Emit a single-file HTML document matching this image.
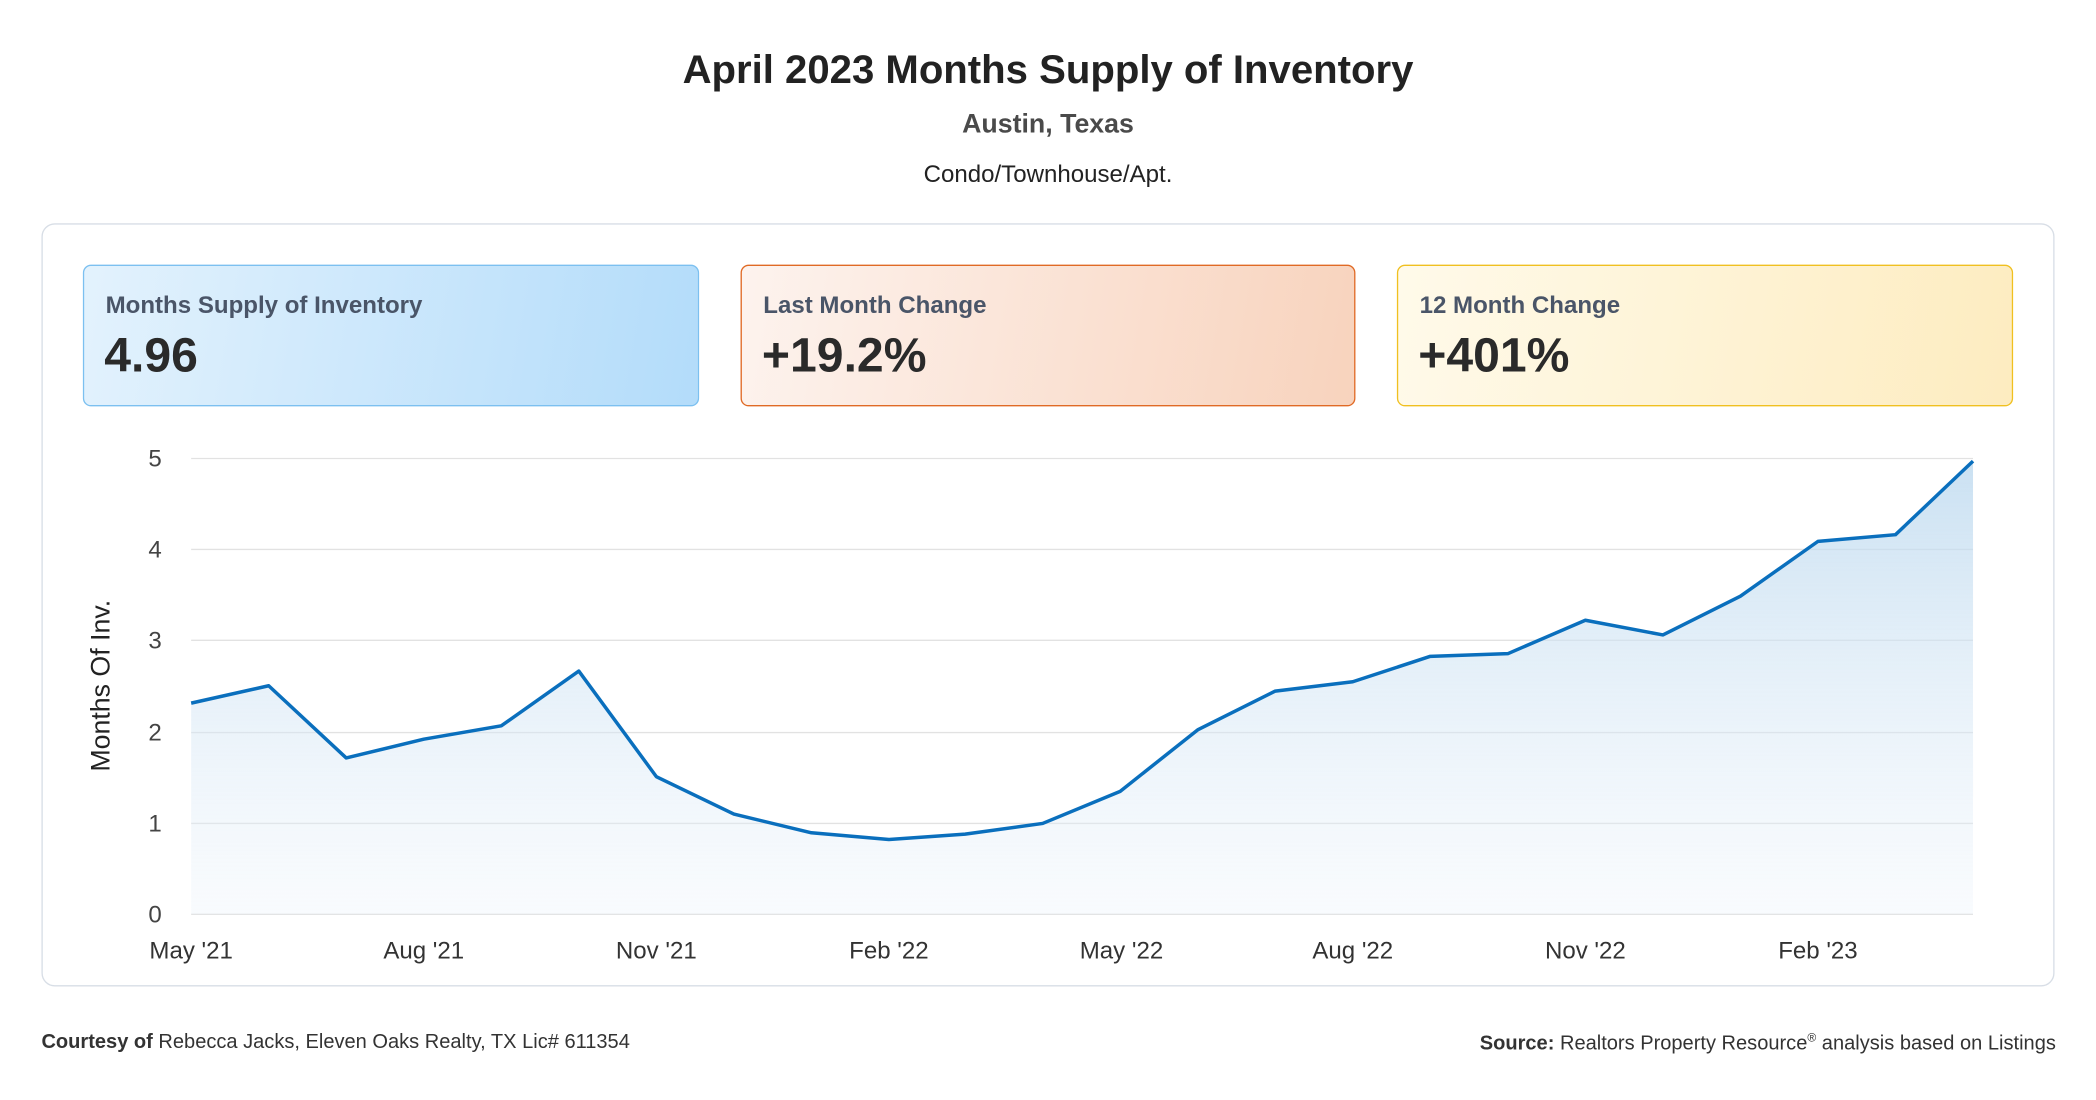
<!DOCTYPE html>
<html><head><meta charset="utf-8"><style>
html,body{margin:0;padding:0;background:#fff;width:2096px;height:1100px;overflow:hidden}
#w{position:absolute;left:0;top:0;width:1568px;height:823px;transform:scale(1.33673);transform-origin:0 0;font-family:"Liberation Sans",sans-serif;color:#222}
.c{position:absolute;left:0;width:1568px;text-align:center}
.box{position:absolute;top:198px;height:106px;width:459px;border-radius:6px;box-sizing:border-box}
.box .l{position:absolute;left:16px;top:19px;font-size:18px;font-weight:bold;color:#4a5568}
.box .v{position:absolute;left:15px;top:46px;font-size:36px;font-weight:bold;color:#2a2a2a}
</style></head><body><div id="w">
<div class="c" style="top:36px;font-size:30px;font-weight:bold;color:#222">April 2023 Months Supply of Inventory</div>
<div class="c" style="top:82px;font-size:20px;font-weight:bold;color:#4a4a4a">Austin, Texas</div>
<div class="c" style="top:120px;font-size:18px;color:#222">Condo/Townhouse/Apt.</div>
<div style="position:absolute;left:31px;top:167px;width:1506px;height:571px;border:1px solid #d8dee6;border-radius:10px;box-sizing:border-box"></div>
<div class="box" style="left:62px;width:461px;border:1.5px solid #7cc0f0;background:linear-gradient(100deg,#e3f2fd,#b3dcfa)"><div class="l">Months Supply of Inventory</div><div class="v">4.96</div></div>
<div class="box" style="left:554px;width:460px;border:1.5px solid #e06a25;background:linear-gradient(100deg,#fdf3ee,#f8d3bd)"><div class="l">Last Month Change</div><div class="v">+19.2%</div></div>
<div class="box" style="left:1045px;width:461px;border:1.5px solid #f0c020;background:linear-gradient(100deg,#fffaea,#fdecc0)"><div class="l">12 Month Change</div><div class="v">+401%</div></div>
<svg style="position:absolute;left:0;top:0" width="1568" height="823" font-family="Liberation Sans, sans-serif">
<defs><linearGradient id="g" x1="0" y1="0" x2="0" y2="1"><stop offset="0" stop-color="#b9d7ee" stop-opacity=".75"/><stop offset="1" stop-color="#eaf2fa" stop-opacity=".3"/></linearGradient></defs>
<g stroke="#e2e2e2" stroke-width="1">
<line x1="143" x2="1476" y1="343" y2="343"/><line x1="143" x2="1476" y1="411" y2="411"/><line x1="143" x2="1476" y1="479" y2="479"/><line x1="143" x2="1476" y1="548" y2="548"/><line x1="143" x2="1476" y1="616" y2="616"/><line x1="143" x2="1476" y1="684" y2="684"/></g>
<g font-size="18" fill="#444" text-anchor="end"><text x="121" y="349">5</text><text x="121" y="417">4</text><text x="121" y="485">3</text><text x="121" y="554">2</text><text x="121" y="622">1</text><text x="121" y="690">0</text></g>
<text transform="translate(82,513) rotate(-90)" font-size="20" fill="#222" text-anchor="middle">Months Of Inv.</text>
<g font-size="18" fill="#333" text-anchor="middle"><text x="143" y="717">May '21</text><text x="317" y="717">Aug '21</text><text x="491" y="717">Nov '21</text><text x="665" y="717">Feb '22</text><text x="839" y="717">May '22</text><text x="1012" y="717">Aug '22</text><text x="1186" y="717">Nov '22</text><text x="1360" y="717">Feb '23</text></g>
<path d="M143,526 L201,513 L259,567 L317,553 L375,543 L433,502 L491,581 L549,609 L607,623 L665,628 L722,624 L780,616 L838,592 L896,546 L954,517 L1012,510 L1070,491 L1128,489 L1186,464 L1244,475 L1302,446 L1360,405 L1418,400 L1476,345 L1476,684 L143,684 Z" fill="url(#g)"/>
<polyline points="143,526 201,513 259,567 317,553 375,543 433,502 491,581 549,609 607,623 665,628 722,624 780,616 838,592 896,546 954,517 1012,510 1070,491 1128,489 1186,464 1244,475 1302,446 1360,405 1418,400 1476,345" fill="none" stroke="#0a6fbd" stroke-width="2.6" stroke-linejoin="round"/>
</svg>
<div style="position:absolute;left:31px;top:771px;font-size:15px;color:#333"><b>Courtesy of</b> Rebecca Jacks, Eleven Oaks Realty, TX Lic# 611354</div>
<div style="position:absolute;right:30px;top:771px;font-size:15px;color:#333"><b>Source:</b> Realtors Property Resource<sup style="font-size:9px">®</sup> analysis based on Listings</div>
</div></body></html>
